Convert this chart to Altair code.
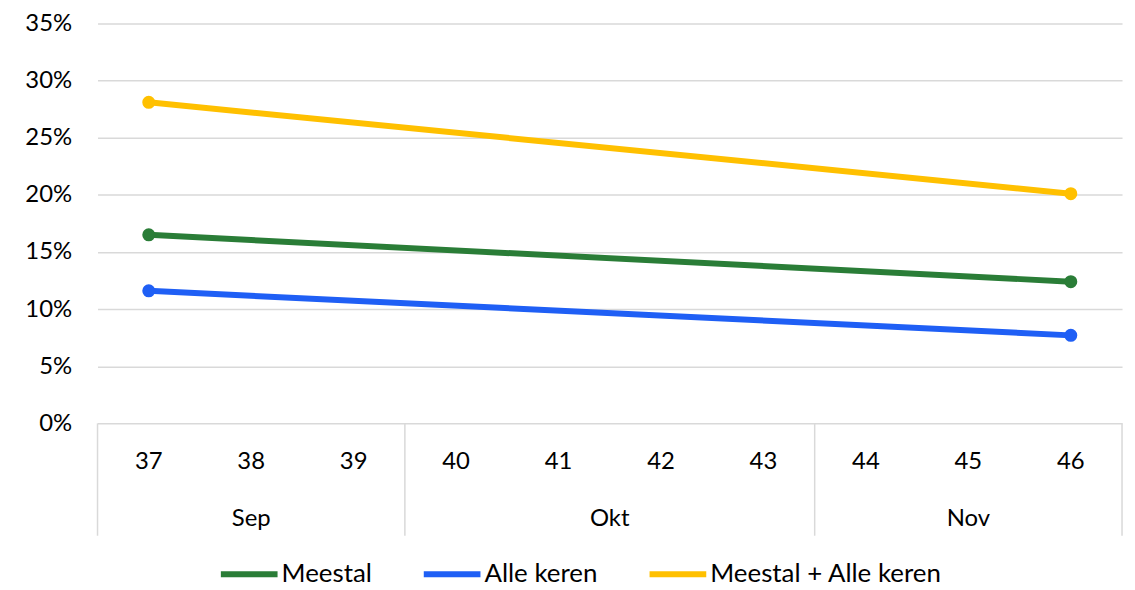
import altair as alt
import pandas as pd

# ---- data ----
weeks = [37, 38, 39, 40, 41, 42, 43, 44, 45, 46]
month_names = ["Sep", "Okt", "Nov"]
month_first = [37, 40, 44]
month_last = [39, 43, 46]

obs_weeks = [37, 46]
series = ["Meestal", "Alle keren", "Meestal + Alle keren"]
meestal = [0.165, 0.124]
alle_keren = [0.116, 0.077]
beide = [0.281, 0.201]
colors = ["#2a7d37", "#1f5ff5", "#ffc000"]
y_ticks = [0.0, 0.05, 0.10, 0.15, 0.20, 0.25, 0.30, 0.35]

W, H = 1030, 402
FONT = "Lato"
GRID = "#d9d9d9"

rows = []
for name, vals in zip(series, [meestal, alle_keren, beide]):
    for w, v in zip(obs_weeks, vals):
        rows.append({"week": w, "value": v, "series": name})
df = pd.DataFrame(rows)

week_df = pd.DataFrame({"week": weeks, "label": [str(w) for w in weeks]})
month_df = pd.DataFrame({
    "mid": [(a + b) / 2 for a, b in zip(month_first, month_last)],
    "label": month_names,
})
sep_df = pd.DataFrame({"x": [a - 0.5 for a in month_first] + [month_last[-1] + 0.5]})

xscale = alt.Scale(domain=[weeks[0] - 0.5, weeks[-1] + 0.5], nice=False, zero=False)
yscale = alt.Scale(domain=[0, 0.35], nice=False)

legend = alt.Legend(
    title=None, orient="none", direction="horizontal", legendX=121, legendY=522,
    symbolType="stroke", symbolSize=3249, symbolStrokeWidth=6,
    labelFontSize=26, labelFont=FONT, labelColor="#000000", labelLimit=400,
    labelOffset=1, columnPadding=40,
)
color = alt.Color("series:N", scale=alt.Scale(domain=series, range=colors), legend=legend)

x_enc = alt.X("week:Q", scale=xscale, axis=None)
y_enc = alt.Y(
    "value:Q", scale=yscale,
    axis=alt.Axis(
        values=y_ticks, format=".0%", title=None, domain=False, ticks=False,
        grid=True, gridColor=GRID, gridWidth=1.5, labelFontSize=24, labelFont=FONT,
        labelColor="#000000", labelPadding=26,
    ),
)

lines = alt.Chart(df).mark_line(strokeWidth=6).encode(x=x_enc, y=y_enc, color=color)
points = alt.Chart(df).mark_circle(size=170, opacity=1).encode(x=x_enc, y=y_enc, color=color)

seps = alt.Chart(sep_df).mark_rule(color=GRID, strokeWidth=1.5).encode(
    x=alt.X("x:Q", scale=xscale, axis=None), y=alt.value(H), y2=alt.value(H + 113)
)
week_text = alt.Chart(week_df).mark_text(
    fontSize=24, font=FONT, color="#000000", baseline="middle"
).encode(x=alt.X("week:Q", scale=xscale, axis=None), y=alt.value(H + 39), text="label:N")
month_text = alt.Chart(month_df).mark_text(
    fontSize=24, font=FONT, color="#000000", baseline="middle"
).encode(x=alt.X("mid:Q", scale=xscale, axis=None), y=alt.value(H + 96), text="label:N")

chart = alt.layer(seps, week_text, month_text, lines, points).properties(
    width=W, height=H,
    autosize=alt.AutoSizeParams(type="none"),
    padding={"left": 90, "top": 14, "right": 5, "bottom": 164},
).configure_view(stroke=None)

chart.save("out.html", embed_options={"renderer": "svg", "actions": False})
